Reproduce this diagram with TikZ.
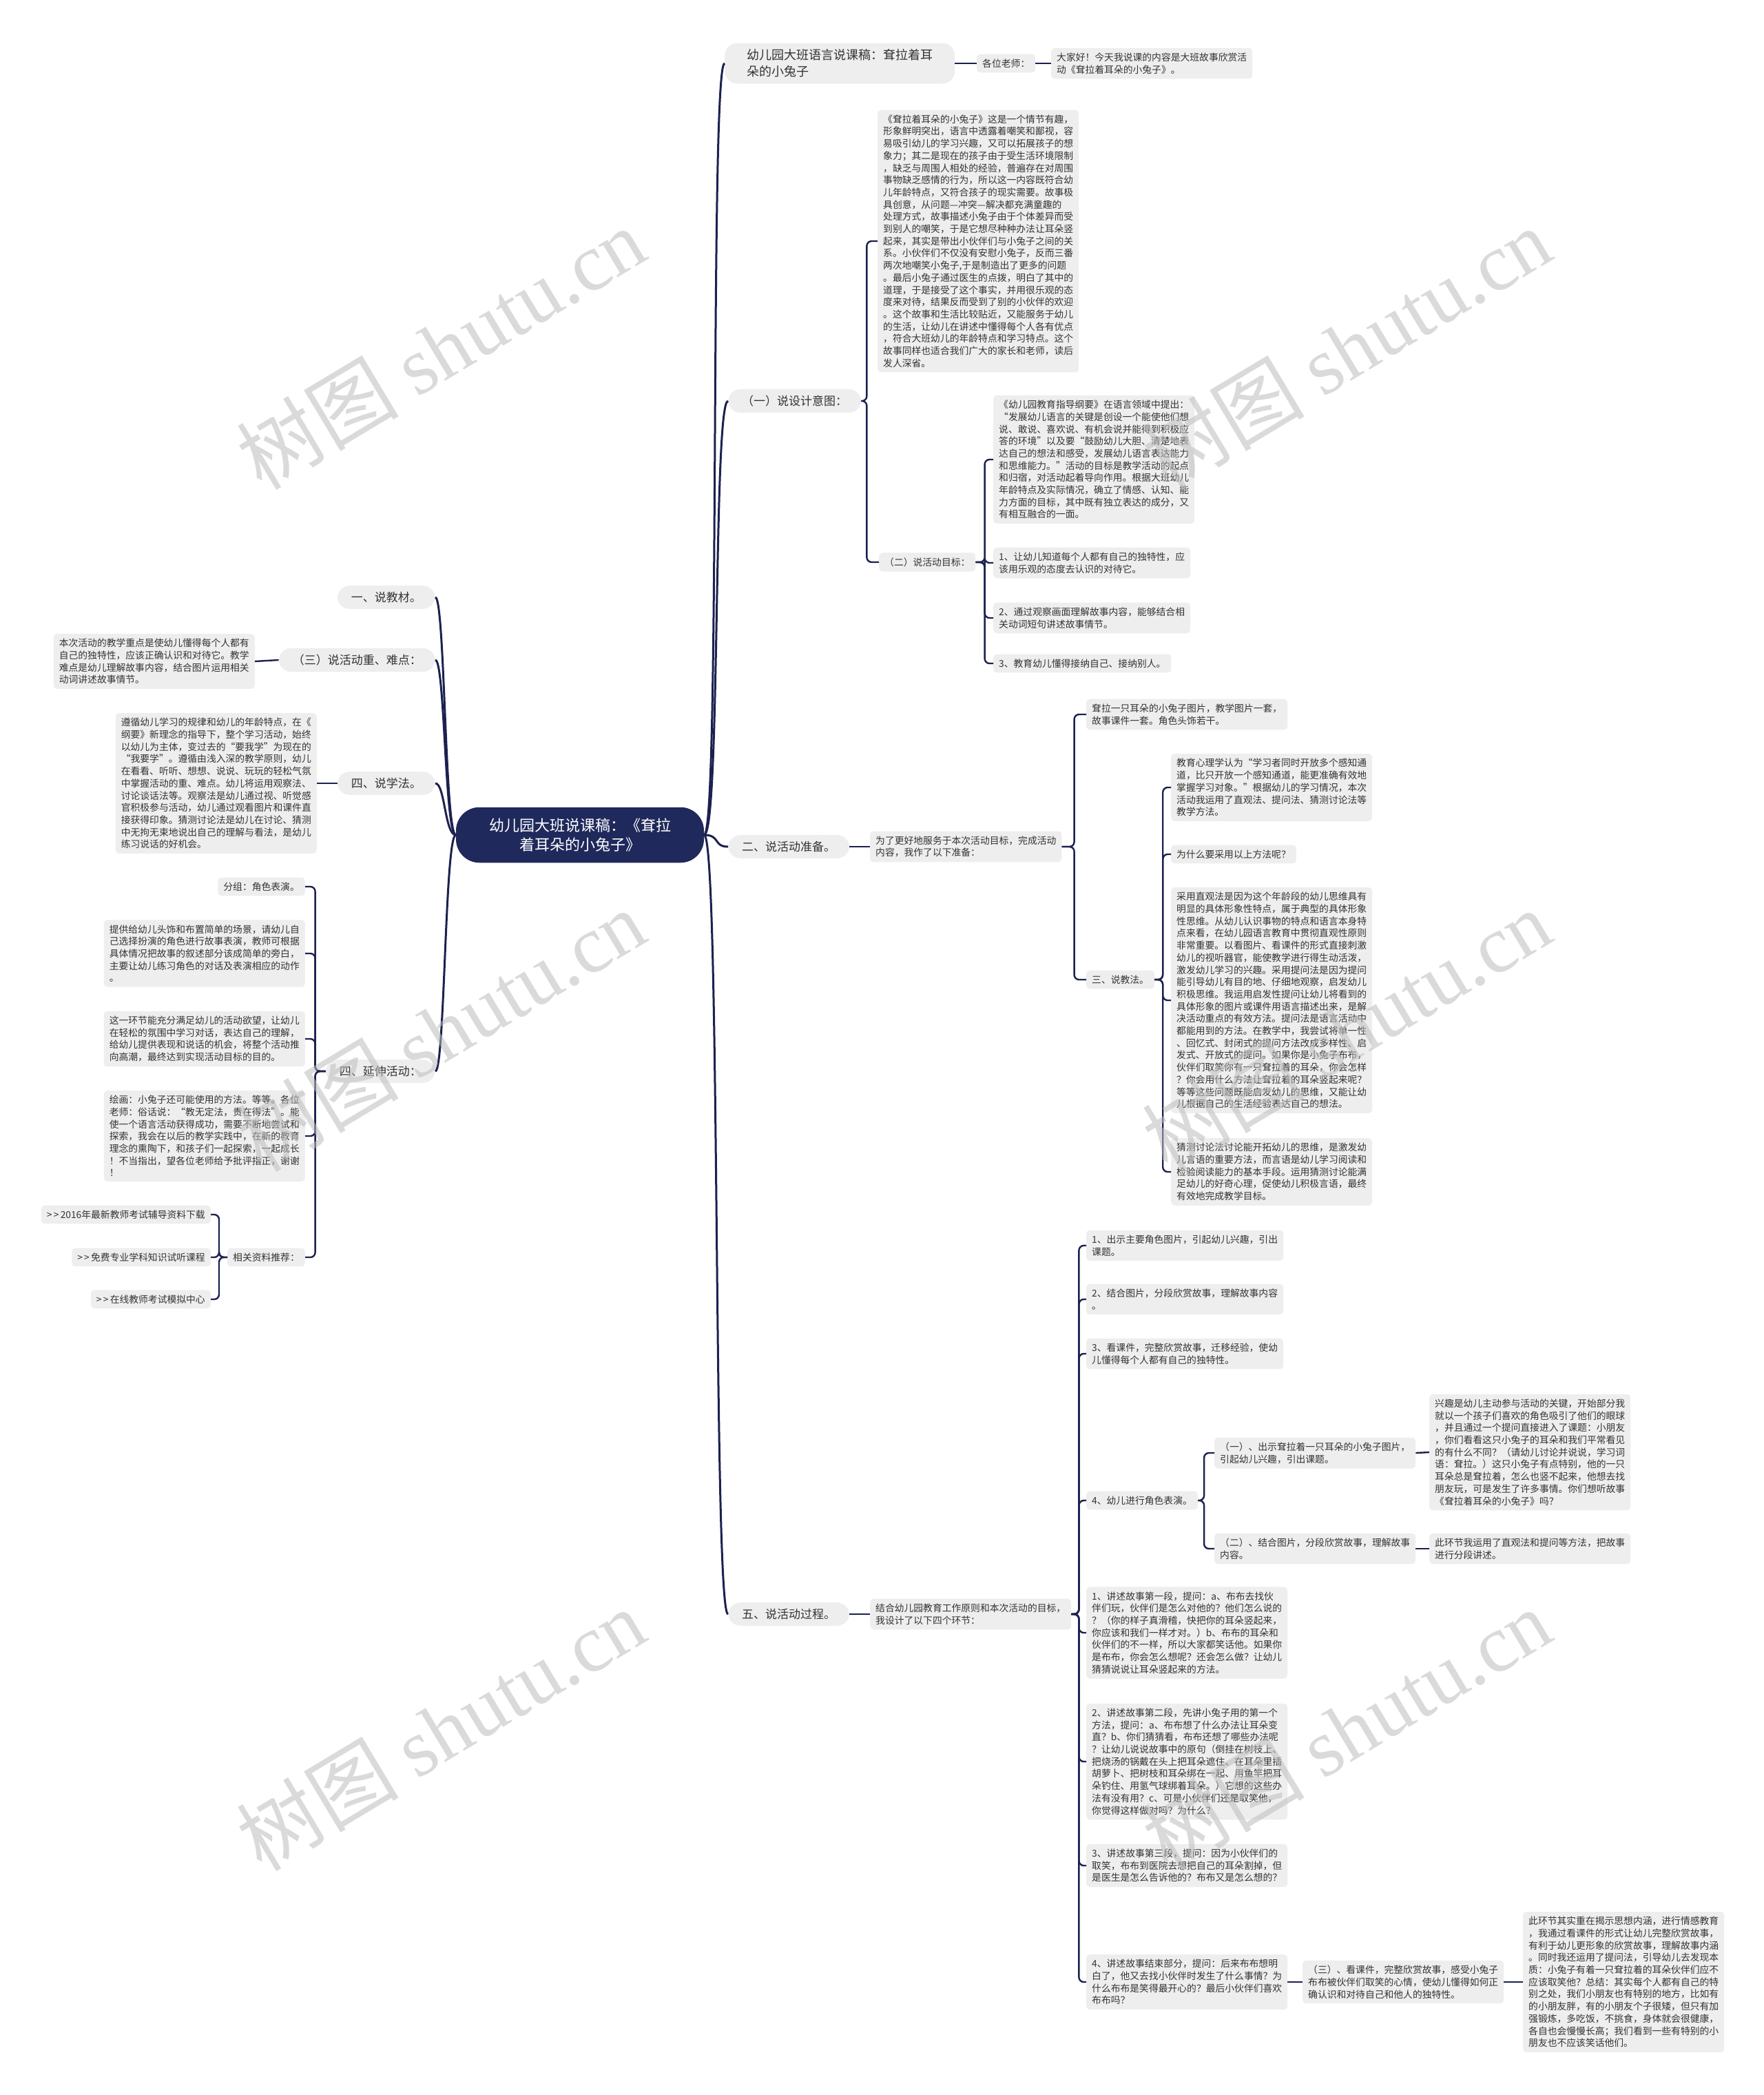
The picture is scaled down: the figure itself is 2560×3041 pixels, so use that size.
\documentclass[tikz,border=0pt]{standalone}
\usepackage{fontspec}
\setmainfont{Noto Sans CJK SC}
\newfontfamily\wmserif{Liberation Serif}
\definecolor{RootNavy}{HTML}{1F295B}
\definecolor{LineNavy}{HTML}{1C2150}
\definecolor{BoxGray}{HTML}{EEEEEE}
\definecolor{TextGray}{HTML}{333333}
\definecolor{MarkGray}{HTML}{BDBDBD}

\begin{document}
\begin{tikzpicture}[x=1pt, y=-1pt,
  root/.style={fill=RootNavy, text=white, rounded corners=34pt, align=center, inner xsep=48pt, inner ysep=16pt, font=\fontsize{22}{28}\selectfont},
  topic/.style={fill=BoxGray, text=TextGray, rounded corners=18pt, align=left, inner xsep=20pt, inner ysep=9pt, font=\fontsize{17}{22}\selectfont},
  leaf/.style={fill=BoxGray, text=TextGray, rounded corners=5pt, align=left, inner xsep=8pt, inner ysep=7pt, font=\fontsize{13.8}{17.7}\selectfont},
  trunk/.style={draw=LineNavy, line width=3pt},
  twig/.style={draw=LineNavy, line width=2.4pt, rounded corners=7pt},
  wmark/.style={text=MarkGray, opacity=0.55, inner sep=0pt, font=\fontsize{118}{124}\selectfont}]

\fill[white] (0,0) rectangle (2560,3041);
\useasboundingbox (0,0) rectangle (2560,3041);

% --- root ---
\node[root] (root) at (842,1212) {幼儿园大班说课稿：《耷拉\\着耳朵的小兔子》};

% --- right: title ---
\node[topic, anchor=west, inner xsep=32pt, font=\fontsize{18}{24}\selectfont] (r1) at (1052,92) {幼儿园大班语言说课稿：耷拉着耳\\%
朵的小兔子};
\node[leaf, anchor=west] (r1-a) at (1418,92) {各位老师：};
\node[leaf, anchor=west] (r1-b) at (1526,92) {大家好！今天我说课的内容是大班故事欣赏活\\%
动《耷拉着耳朵的小兔子》。};

% --- right: design ---
\node[topic, anchor=west] (r2) at (1057,582) {（一）说设计意图：};
\node[leaf, anchor=west] (r2-a) at (1274,350) {《耷拉着耳朵的小兔子》这是一个情节有趣，\\%
形象鲜明突出，语言中透露着嘲笑和鄙视，容\\%
易吸引幼儿的学习兴趣，又可以拓展孩子的想\\%
象力；其二是现在的孩子由于受生活环境限制\\%
，缺乏与周围人相处的经验，普遍存在对周围\\%
事物缺乏感情的行为，所以这一内容既符合幼\\%
儿年龄特点，又符合孩子的现实需要。故事极\\%
具创意，从问题—冲突—解决都充满童趣的\\%
处理方式，故事描述小兔子由于个体差异而受\\%
到别人的嘲笑，于是它想尽种种办法让耳朵竖\\%
起来，其实是带出小伙伴们与小兔子之间的关\\%
系。小伙伴们不仅没有安慰小兔子，反而三番\\%
两次地嘲笑小兔子,于是制造出了更多的问题\\%
。最后小兔子通过医生的点拨，明白了其中的\\%
道理，于是接受了这个事实，并用很乐观的态\\%
度来对待，结果反而受到了别的小伙伴的欢迎\\%
。这个故事和生活比较贴近，又能服务于幼儿\\%
的生活，让幼儿在讲述中懂得每个人各有优点\\%
，符合大班幼儿的年龄特点和学习特点。这个\\%
故事同样也适合我们广大的家长和老师，读后\\%
发人深省。};
\node[leaf, anchor=west] (r2-b) at (1276,816) {（二）说活动目标：};
\node[leaf, anchor=west] (r2-b1) at (1442,667) {《幼儿园教育指导纲要》在语言领域中提出：\\%
“发展幼儿语言的关键是创设一个能使他们想\\%
说、敢说、喜欢说、有机会说并能得到积极应\\%
答的环境”以及要“鼓励幼儿大胆、清楚地表\\%
达自己的想法和感受，发展幼儿语言表达能力\\%
和思维能力。”活动的目标是教学活动的起点\\%
和归宿，对活动起着导向作用。根据大班幼儿\\%
年龄特点及实际情况，确立了情感、认知、能\\%
力方面的目标，其中既有独立表达的成分，又\\%
有相互融合的一面。};
\node[leaf, anchor=west] (r2-b2) at (1442,817) {1、让幼儿知道每个人都有自己的独特性，应\\%
该用乐观的态度去认识的对待它。};
\node[leaf, anchor=west] (r2-b3) at (1442,897) {2、通过观察画面理解故事内容，能够结合相\\%
关动词短句讲述故事情节。};
\node[leaf, anchor=west] (r2-b4) at (1442,963) {3、教育幼儿懂得接纳自己、接纳别人。};

% --- right: preparation ---
\node[topic, anchor=west] (r3) at (1057,1229) {二、说活动准备。};
\node[leaf, anchor=west] (r3-a) at (1263,1229) {为了更好地服务于本次活动目标，完成活动\\%
内容，我作了以下准备：};
\node[leaf, anchor=west] (r3-a1) at (1577,1037) {耷拉一只耳朵的小兔子图片，教学图片一套，\\%
故事课件一套。角色头饰若干。};
\node[leaf, anchor=west] (r3-a2) at (1577,1422) {三、说教法。};
\node[leaf, anchor=west] (r3-m1) at (1700,1143) {教育心理学认为“学习者同时开放多个感知通\\%
道，比只开放一个感知通道，能更准确有效地\\%
掌握学习对象。”根据幼儿的学习情况，本次\\%
活动我运用了直观法、提问法、猜测讨论法等\\%
教学方法。};
\node[leaf, anchor=west] (r3-m2) at (1700,1240) {为什么要采用以上方法呢？};
\node[leaf, anchor=west] (r3-m3) at (1700,1452) {采用直观法是因为这个年龄段的幼儿思维具有\\%
明显的具体形象性特点，属于典型的具体形象\\%
性思维。从幼儿认识事物的特点和语言本身特\\%
点来看，在幼儿园语言教育中贯彻直观性原则\\%
非常重要。以看图片、看课件的形式直接刺激\\%
幼儿的视听器官，能使教学进行得生动活泼，\\%
激发幼儿学习的兴趣。采用提问法是因为提问\\%
能引导幼儿有目的地、仔细地观察，启发幼儿\\%
积极思维。我运用启发性提问让幼儿将看到的\\%
具体形象的图片或课件用语言描述出来，是解\\%
决活动重点的有效方法。提问法是语言活动中\\%
都能用到的方法。在教学中，我尝试将单一性\\%
、回忆式、封闭式的提问方法改成多样性、启\\%
发式、开放式的提问。如果你是小兔子布布，\\%
伙伴们取笑你有一只耷拉着的耳朵，你会怎样\\%
？你会用什么方法让耷拉着的耳朵竖起来呢？\\%
等等这些问题既能启发幼儿的思维，又能让幼\\%
儿根据自己的生活经验表达自己的想法。};
\node[leaf, anchor=west] (r3-m4) at (1700,1701) {猜测讨论法讨论能开拓幼儿的思维，是激发幼\\%
儿言语的重要方法，而言语是幼儿学习阅读和\\%
检验阅读能力的基本手段。运用猜测讨论能满\\%
足幼儿的好奇心理，促使幼儿积极言语，最终\\%
有效地完成教学目标。};

% --- right: process ---
\node[topic, anchor=west] (r4) at (1057,2343) {五、说活动过程。};
\node[leaf, anchor=west] (r4-a) at (1263,2343) {结合幼儿园教育工作原则和本次活动的目标，\\%
我设计了以下四个环节：};
\node[leaf, anchor=west] (r4-s1) at (1577,1808) {1、出示主要角色图片，引起幼儿兴趣，引出\\%
课题。};
\node[leaf, anchor=west] (r4-s2) at (1577,1886) {2、结合图片，分段欣赏故事，理解故事内容\\%
。};
\node[leaf, anchor=west] (r4-s3) at (1577,1965) {3、看课件，完整欣赏故事，迁移经验，使幼\\%
儿懂得每个人都有自己的独特性。};
\node[leaf, anchor=west] (r4-s4) at (1577,2178) {4、幼儿进行角色表演。};
\node[leaf, anchor=west] (r4-s4a) at (1763,2109) {（一）、出示耷拉着一只耳朵的小兔子图片，\\%
引起幼儿兴趣，引出课题。};
\node[leaf, anchor=west] (r4-s4a1) at (2075,2108) {兴趣是幼儿主动参与活动的关键，开始部分我\\%
就以一个孩子们喜欢的角色吸引了他们的眼球\\%
，并且通过一个提问直接进入了课题：小朋友\\%
，你们看看这只小兔子的耳朵和我们平常看见\\%
的有什么不同？（请幼儿讨论并说说，学习词\\%
语：耷拉。）这只小兔子有点特别，他的一只\\%
耳朵总是耷拉着，怎么也竖不起来，他想去找\\%
朋友玩，可是发生了许多事情。你们想听故事\\%
《耷拉着耳朵的小兔子》吗？};
\node[leaf, anchor=west] (r4-s4b) at (1763,2248) {（二）、结合图片，分段欣赏故事，理解故事\\%
内容。};
\node[leaf, anchor=west] (r4-s4b1) at (2075,2248) {此环节我运用了直观法和提问等方法，把故事\\%
进行分段讲述。};
\node[leaf, anchor=west] (r4-t1) at (1577,2370) {1、讲述故事第一段，提问：a、布布去找伙\\%
伴们玩，伙伴们是怎么对他的？他们怎么说的\\%
？（你的样子真滑稽，快把你的耳朵竖起来，\\%
你应该和我们一样才对。）b、布布的耳朵和\\%
伙伴们的不一样，所以大家都笑话他。如果你\\%
是布布，你会怎么想呢？还会怎么做？让幼儿\\%
猜猜说说让耳朵竖起来的方法。};
\node[leaf, anchor=west] (r4-t2) at (1577,2557) {2、讲述故事第二段，先讲小兔子用的第一个\\%
方法，提问：a、布布想了什么办法让耳朵变\\%
直？b、你们猜猜看，布布还想了哪些办法呢\\%
？让幼儿说说故事中的原句（倒挂在树枝上、\\%
把烧汤的锅戴在头上把耳朵遮住、在耳朵里插\\%
胡萝卜、把树枝和耳朵绑在一起、用鱼竿把耳\\%
朵钓住、用氢气球绑着耳朵。）它想的这些办\\%
法有没有用？c、可是小伙伴们还是取笑他，\\%
你觉得这样做对吗？为什么？};
\node[leaf, anchor=west] (r4-t3) at (1577,2708) {3、讲述故事第三段，提问：因为小伙伴们的\\%
取笑，布布到医院去想把自己的耳朵割掉，但\\%
是医生是怎么告诉他的？布布又是怎么想的？};
\node[leaf, anchor=west] (r4-t4) at (1577,2877) {4、讲述故事结束部分，提问：后来布布想明\\%
白了，他又去找小伙伴时发生了什么事情？为\\%
什么布布是笑得最开心的？最后小伙伴们喜欢\\%
布布吗？};
\node[leaf, anchor=west] (r4-t4a) at (1891,2877) {（三）、看课件，完整欣赏故事，感受小兔子\\%
布布被伙伴们取笑的心情，使幼儿懂得如何正\\%
确认识和对待自己和他人的独特性。};
\node[leaf, anchor=west] (r4-t4a1) at (2211,2877) {此环节其实重在揭示思想内涵，进行情感教育\\%
，我通过看课件的形式让幼儿完整欣赏故事，\\%
有利于幼儿更形象的欣赏故事，理解故事内涵\\%
。同时我还运用了提问法，引导幼儿去发现本\\%
质：小兔子有着一只耷拉着的耳朵伙伴们应不\\%
应该取笑他？总结：其实每个人都有自己的特\\%
别之处，我们小朋友也有特别的地方，比如有\\%
的小朋友胖，有的小朋友个子很矮，但只有加\\%
强锻炼，多吃饭，不挑食，身体就会很健康，\\%
各自也会慢慢长高；我们看到一些有特别的小\\%
朋友也不应该笑话他们。};

% --- left side ---
\node[topic, anchor=east] (l1) at (632,867) {一、说教材。};
\node[topic, anchor=east] (l2) at (632,958) {（三）说活动重、难点：};
\node[leaf, anchor=east] (l2-a) at (370,960) {本次活动的教学重点是使幼儿懂得每个人都有\\%
自己的独特性，应该正确认识和对待它。教学\\%
难点是幼儿理解故事内容，结合图片运用相关\\%
动词讲述故事情节。};
\node[topic, anchor=east] (l3) at (632,1137) {四、说学法。};
\node[leaf, anchor=east] (l3-a) at (460,1137) {遵循幼儿学习的规律和幼儿的年龄特点，在《\\%
纲要》新理念的指导下，整个学习活动，始终\\%
以幼儿为主体，变过去的“要我学”为现在的\\%
“我要学”。遵循由浅入深的教学原则，幼儿\\%
在看看、听听、想想、说说、玩玩的轻松气氛\\%
中掌握活动的重、难点。幼儿将运用观察法、\\%
讨论谈话法等。观察法是幼儿通过视、听觉感\\%
官积极参与活动，幼儿通过观看图片和课件直\\%
接获得印象。猜测讨论法是幼儿在讨论、猜测\\%
中无拘无束地说出自己的理解与看法，是幼儿\\%
练习说话的好机会。};
\node[topic, anchor=east] (l4) at (632,1555) {四、延伸活动：};
\node[leaf, anchor=east] (l4-a) at (443,1287) {分组：角色表演。};
\node[leaf, anchor=east] (l4-b) at (443,1384) {提供给幼儿头饰和布置简单的场景，请幼儿自\\%
己选择扮演的角色进行故事表演，教师可根据\\%
具体情况把故事的叙述部分该成简单的旁白，\\%
主要让幼儿练习角色的对话及表演相应的动作\\%
。};
\node[leaf, anchor=east] (l4-c) at (443,1508) {这一环节能充分满足幼儿的活动欲望，让幼儿\\%
在轻松的氛围中学习对话，表达自己的理解，\\%
给幼儿提供表现和说话的机会，将整个活动推\\%
向高潮，最终达到实现活动目标的目的。};
\node[leaf, anchor=east] (l4-d) at (443,1649) {绘画：小兔子还可能使用的方法。等等。各位\\%
老师：俗话说：“教无定法，贵在得法”。能\\%
使一个语言活动获得成功，需要不断地尝试和\\%
探索，我会在以后的教学实践中，在新的教育\\%
理念的熏陶下，和孩子们一起探索，一起成长\\%
！不当指出，望各位老师给予批评指正，谢谢\\%
！};
\node[leaf, anchor=east] (l4-e) at (443,1825) {相关资料推荐：};
\foreach \k/\ly/\txt in {1/1763/{>{}\,>{}\,2016年最新教师考试辅导资料下载},2/1825/{>{}\,>{}\,免费专业学科知识试听课程},3/1886/{>{}\,>{}\,在线教师考试模拟中心}}
  \node[leaf, anchor=east] (l4-e\k) at (306,\ly) {\txt};

% --- connectors from root ---
\foreach \n in {r1,r2,r3,r4}
  \draw[trunk] (root.east) .. controls +(24,0) and +(-22,0) .. (\n.west);
\foreach \n in {l1,l2,l3,l4}
  \draw[trunk] (root.west) .. controls +(-16,0) and +(14,0) .. (\n.east);

% --- connectors, right ---
\draw[twig] (r1.east) -- (r1-a.west);
\draw[twig] (r1-a.east) -- (r1-b.west);
\foreach \c in {r2-a,r2-b}
  \draw[twig] (r2.east) -- ++(8,0) |- (\c.west);
\foreach \c in {r2-b1,r2-b2,r2-b3,r2-b4}
  \draw[twig] (r2-b.east) -- ++(13,0) |- (\c.west);
\draw[twig] (r3.east) -- (r3-a.west);
\foreach \c in {r3-a1,r3-a2}
  \draw[twig] (r3-a.east) -- ++(18,0) |- (\c.west);
\foreach \c in {r3-m1,r3-m2,r3-m3,r3-m4}
  \draw[twig] (r3-a2.east) -- ++(12,0) |- (\c.west);
\draw[twig] (r4.east) -- (r4-a.west);
\foreach \c in {r4-s1,r4-s2,r4-s3,r4-s4,r4-t1,r4-t2,r4-t3,r4-t4}
  \draw[twig] (r4-a.east) -- ++(11,0) |- (\c.west);
\foreach \c in {r4-s4a,r4-s4b}
  \draw[twig] (r4-s4.east) -- ++(9,0) |- (\c.west);
\draw[twig] (r4-s4a.east) -- (r4-s4a1.west);
\draw[twig] (r4-s4b.east) -- (r4-s4b1.west);
\draw[twig] (r4-t4.east) -- (r4-t4a.west);
\draw[twig] (r4-t4a.east) -- (r4-t4a1.west);

% --- connectors, left ---
\draw[twig] (l2.west) -- (l2-a.east);
\draw[twig] (l3.west) -- (l3-a.east);
\foreach \c in {l4-a,l4-b,l4-c,l4-d,l4-e}
  \draw[twig] (l4.west) -- ++(-15,0) |- (\c.east);
\foreach \c in {l4-e1,l4-e2,l4-e3}
  \draw[twig] (l4-e.west) -- ++(-12,0) |- (\c.east);

% --- watermark ---
\foreach \wx/\wy [count=\k] in {640/505,1955/505,640/1495,1955/1495,640/2510,1955/2510}
  \node[wmark, rotate=31] (wm-\k) at (\wx,\wy) {树图 {\wmserif shutu.cn}};
\end{tikzpicture}
\end{document}
